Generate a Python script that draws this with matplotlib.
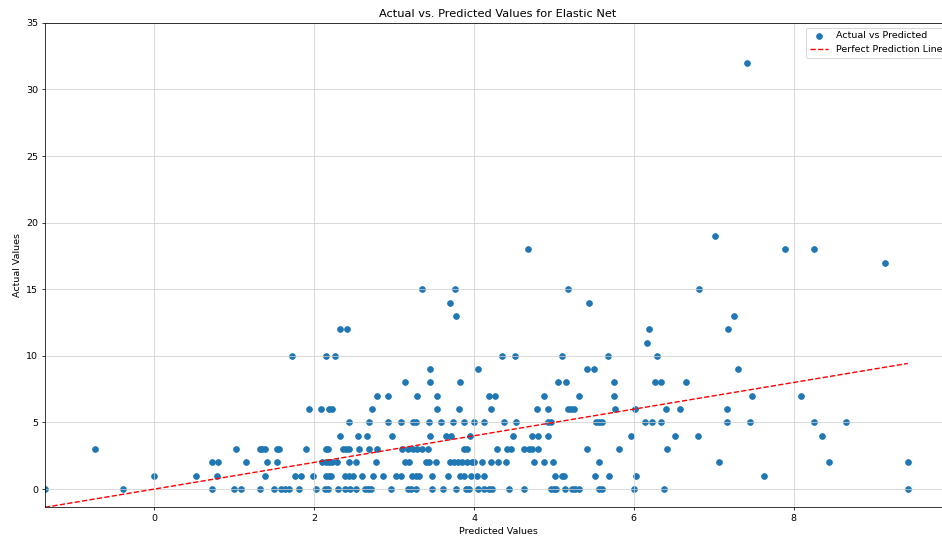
import numpy as np
import matplotlib
matplotlib.use("Agg")
import matplotlib.pyplot as plt

# Predicted values grouped by the (integer) actual value they belong to
pred_actual_0 = [-1.37, -0.39, 0.72, 1.00, 1.08, 1.32, 1.50, 1.59, 1.63, 1.68, 1.81,
                 2.02, 2.13, 2.17, 2.30, 2.39, 2.45, 2.52, 2.63, 2.67, 2.71, 2.96,
                 3.17, 3.21, 3.27, 3.48, 3.61, 3.78, 3.90, 3.94, 4.05, 4.13, 4.19,
                 4.23, 4.44, 4.63, 4.96, 5.00, 5.03, 5.14, 5.23, 5.27, 5.31, 5.57,
                 5.60, 6.00, 6.38, 9.43]
pred_actual_1 = [-0.01, 0.52, 0.78, 1.38, 1.76, 1.83, 1.99, 2.15, 2.19, 2.21, 2.38,
                 2.43, 2.49, 2.60, 2.74, 2.86, 3.02, 3.08, 3.22, 3.27, 3.31, 3.47,
                 3.67, 3.83, 3.87, 3.96, 4.04, 4.13, 5.01, 5.10, 5.13, 5.51, 5.69,
                 6.03, 7.63]
pred_actual_2 = [0.72, 0.79, 1.15, 1.41, 1.53, 2.10, 2.15, 2.19, 2.22, 2.28, 2.44,
                 2.52, 2.77, 3.13, 3.19, 3.40, 3.44, 3.53, 3.70, 3.75, 3.80, 3.85,
                 3.91, 3.97, 4.00, 4.10, 4.21, 4.30, 4.40, 4.75, 4.88, 4.99, 5.56,
                 7.06, 8.44, 9.43]
pred_actual_3 = [-0.74, 1.02, 1.32, 1.35, 1.38, 1.53, 1.56, 1.90, 2.15, 2.17, 2.36,
                 2.40, 2.43, 2.56, 2.68, 2.79, 3.10, 3.17, 3.23, 3.29, 3.35, 3.42,
                 3.87, 3.91, 4.29, 4.41, 4.46, 4.63, 4.69, 4.73, 4.80, 5.42, 5.82,
                 6.41]
pred_actual_4 = [2.32, 2.55, 2.66, 2.97, 3.45, 3.65, 3.71, 3.95, 4.49, 4.72, 4.80,
                 4.93, 5.97, 6.52, 6.80, 8.36]
pred_actual_5 = [2.43, 2.68, 2.92, 3.09, 3.24, 3.27, 3.44, 3.59, 3.74, 3.88, 4.00,
                 4.12, 4.37, 4.52, 4.93, 4.96, 5.53, 5.56, 5.60, 6.14, 6.23, 6.34,
                 7.17, 7.46, 8.26, 8.65]
pred_actual_6 = [1.94, 2.09, 2.19, 2.22, 2.72, 3.54, 3.81, 4.21, 4.79, 4.93, 5.18,
                 5.21, 5.25, 5.77, 6.02, 6.40, 6.58, 7.17]
pred_actual_7 = [2.79, 2.92, 3.28, 3.54, 4.19, 4.26, 4.87, 5.31, 5.75, 7.48, 8.09]
pred_actual_8 = [3.13, 3.45, 3.82, 5.05, 5.15, 5.75, 6.26, 6.34, 6.65]
pred_actual_9 = [3.45, 4.05, 5.41, 5.50, 7.30]
pred_actual_10 = [1.72, 2.15, 2.26, 4.35, 4.51, 5.10, 5.68, 6.29]
pred_actual_11 = [6.16]
pred_actual_12 = [2.32, 2.41, 6.19, 7.18]
pred_actual_13 = [3.78, 7.25]
pred_actual_14 = [3.70, 5.44]
pred_actual_15 = [3.35, 3.76, 5.17, 6.82]
pred_actual_17 = [9.15]
pred_actual_18 = [4.68, 7.89, 8.25]
pred_actual_19 = [7.01]
pred_actual_32 = [7.42]

groups = {
    0: pred_actual_0, 1: pred_actual_1, 2: pred_actual_2, 3: pred_actual_3,
    4: pred_actual_4, 5: pred_actual_5, 6: pred_actual_6, 7: pred_actual_7,
    8: pred_actual_8, 9: pred_actual_9, 10: pred_actual_10, 11: pred_actual_11,
    12: pred_actual_12, 13: pred_actual_13, 14: pred_actual_14, 15: pred_actual_15,
    17: pred_actual_17, 18: pred_actual_18, 19: pred_actual_19, 32: pred_actual_32,
}
y_pred = np.concatenate([np.asarray(v, float) for v in groups.values()])
y_test = np.concatenate([np.full(len(v), k, float) for k, v in groups.items()])

DPI = 68
fig = plt.figure(figsize=(942 / DPI, 539 / DPI), dpi=DPI)
ax = fig.add_axes([45 / 942, 1 - 507.3 / 539, 906 / 942, (507.3 - 22.8) / 539])

ax.scatter(y_pred, y_test, color="#1f77b4", label="Actual vs Predicted")
lo, hi = y_pred.min(), y_pred.max()
ax.plot([lo, hi], [lo, hi], "--", color="red", label="Perfect Prediction Line")

ax.set_xlim(lo, 9.97)
ax.set_ylim(lo, 35)
ax.set_title("Actual vs. Predicted Values for Elastic Net")
ax.set_xlabel("Predicted Values")
ax.set_ylabel("Actual Values")
ax.legend(loc="upper right")
ax.grid(True, color="#cfcfcf")

fig.savefig("out.png", dpi=DPI)
